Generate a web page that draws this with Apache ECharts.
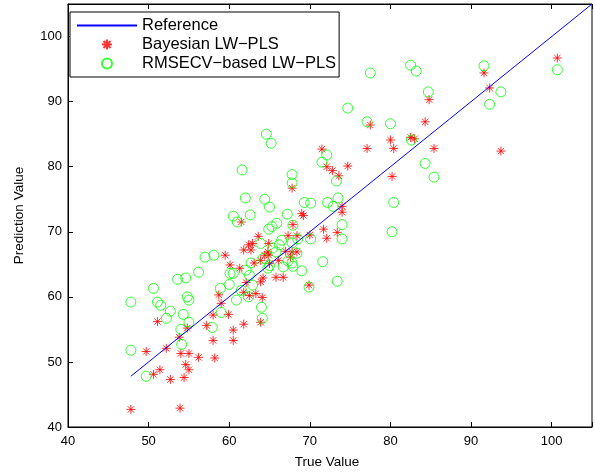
<!DOCTYPE html>
<html>
<head>
<meta charset="utf-8">
<script src="https://cdn.jsdelivr.net/npm/echarts@6/dist/echarts.min.js"></script>
<style>
html, body { margin: 0; padding: 0; background: #fff; }
#main { width: 595px; height: 474px; }
</style>
</head>
<body>
<div id="main"></div>
<script>
// reference line y = x
var refLine = [47.8, 105];

// Bayesian LW-PLS (stars)
var bayesTrue = [100.7, 91.6, 92.3, 93.7, 84.8, 84.3, 77.5, 80.0, 82.5, 83.0, 77.1, 80.4, 85.4, 80.2, 71.5, 72.1, 74.7, 72.8, 73.6, 67.8,
    74.0, 74.0, 69.0, 69.2, 61.5, 67.9, 71.7, 73.4, 72.1, 70.0, 63.6, 67.3, 68.4, 62.9, 62.4, 61.8, 62.7, 64.9, 64.8, 64.9,
    64.4, 67.0, 67.8, 68.4, 67.6, 66.1, 63.9, 63.1, 65.0, 61.3, 64.2, 63.9, 65.8, 66.7, 69.9, 62.1, 59.5, 60.1, 51.1, 54.8,
    53.8, 52.2, 49.7, 54.0, 55.0, 56.2, 54.6, 55.0, 51.4, 50.6, 52.7, 54.4, 47.8, 53.9, 59.0, 58.7, 58.0, 59.9, 57.2, 58.0,
    58.2, 60.5, 60.5, 61.8, 62.5, 63.3, 64.1, 63.9, 61.8];
var bayesPred = [96.7, 94.4, 92.1, 82.4, 90.3, 86.9, 86.4, 84.1, 84.5, 84.3, 82.8, 82.8, 82.8, 78.5, 82.7, 80.0, 80.1, 79.4, 78.6, 76.7,
    73.9, 73.0, 72.8, 72.5, 71.5, 71.1, 70.4, 69.9, 69.0, 69.5, 69.3, 69.4, 69.4, 68.2, 68.0, 67.2, 67.2, 68.2, 66.9, 66.4,
    66.4, 67.0, 66.9, 66.9, 66.1, 65.6, 65.6, 65.2, 65.1, 64.4, 62.9, 62.3, 63.0, 63.0, 61.8, 62.2, 66.4, 64.9, 56.2, 55.2,
    53.8, 52.1, 51.6, 51.3, 51.3, 50.7, 49.6, 48.8, 48.8, 48.1, 47.3, 47.6, 42.7, 42.9, 59.0, 60.3, 57.2, 57.3, 55.6, 53.3,
    50.6, 54.9, 53.3, 60.7, 60.2, 60.5, 59.9, 56.1, 55.8];

// RMSECV-based LW-PLS (circles)
var rmsecvTrue = [100.7, 91.6, 93.7, 92.3, 77.5, 82.5, 83.2, 84.7, 77.1, 80.0, 82.6, 84.3, 85.4, 80.4, 80.2, 74.7, 64.6, 65.2, 72.1, 71.5,
    73.3, 61.6, 67.8, 67.8, 62.0, 64.4, 65.0, 62.6, 69.3, 70.1, 72.2, 73.5, 72.9, 67.2, 65.9, 65.3, 64.9, 67.9, 74.0, 74.0,
    70.1, 68.5, 67.8, 66.5, 66.2, 63.9, 65.4, 65.8, 68.4, 67.3, 67.8, 67.9, 66.7, 69.0, 64.2, 65.0, 64.8, 62.7, 62.1, 62.5,
    71.6, 73.4, 69.9, 62.9, 60.5, 61.0, 57.0, 58.1, 56.2, 60.1, 60.5, 53.6, 54.6, 50.6, 58.9, 60.0, 47.8, 51.1, 51.5, 52.7,
    52.2, 54.8, 55.0, 54.3, 55.0, 54.0, 54.1, 47.8, 49.7, 59.0, 57.9, 62.4, 60.9, 64.0, 64.1, 61.5];
var rmsecvPred = [94.9, 95.5, 91.5, 89.6, 94.4, 95.6, 94.7, 91.5, 86.9, 86.6, 84.1, 80.5, 78.4, 74.5, 70.0, 89.0, 85.0, 83.6, 81.8, 80.7,
    77.8, 79.5, 78.8, 77.5, 75.2, 75.0, 73.8, 72.6, 74.5, 74.4, 74.5, 75.2, 73.9, 72.7, 71.3, 70.8, 70.4, 71.0, 71.1, 68.9,
    68.9, 68.9, 68.3, 68.7, 68.0, 68.2, 67.5, 66.9, 66.7, 65.5, 65.2, 64.7, 64.6, 64.0, 65.9, 64.8, 64.4, 65.2, 64.1, 63.3,
    65.4, 62.4, 61.5, 61.8, 72.4, 71.5, 66.1, 66.4, 63.8, 63.6, 63.6, 62.7, 62.9, 61.3, 61.3, 61.9, 59.2, 59.2, 58.7, 57.8,
    56.7, 60.0, 59.5, 57.3, 56.1, 55.0, 52.7, 51.8, 47.8, 57.6, 55.3, 60.0, 59.5, 58.4, 56.7, 61.0];

var xTicks = [40, 50, 60, 70, 80, 90, 100];
var yTicks = [40, 50, 60, 70, 80, 90, 100];

var starPath = 'path://M5,0L5,10M0,5L10,5M1.5,1.5L8.5,8.5M1.5,8.5L8.5,1.5';

function pairs(xs, ys) {
    var out = [];
    for (var i = 0; i < xs.length; i++) {
        out.push([xs[i], ys[i]]);
    }
    return out;
}

function tickLabel(list) {
    return function (v) {
        return list.indexOf(v) >= 0 ? String(v) : '';
    };
}

function legendText() {
    return { fontSize: 16.5, color: '#000', lineHeight: 19, fontFamily: font };
}

var chart = echarts.init(document.getElementById('main'), null, { renderer: 'canvas' });
var font = 'Liberation Sans, Arial, Helvetica, sans-serif';

var option = {
    animation: false,
    backgroundColor: '#fff',
    textStyle: { fontFamily: font },
    grid: {
        left: 68, right: -9, top: 4, bottom: 47,
        show: true, borderColor: '#000', borderWidth: 1, backgroundColor: '#fff'
    },
    legend: [{
        // boxed legend with all three entries
        orient: 'vertical',
        align: 'left',
        left: 70, top: 12,
        padding: [4, 3, 4, 6],
        itemGap: 0,
        itemWidth: 60,
        itemHeight: 10,
        backgroundColor: '#fff',
        borderColor: '#000',
        borderWidth: 1,
        borderRadius: 0,
        textStyle: legendText(),
        data: ['Reference', 'Bayesian LW\u2212PLS', 'RMSECV\u2212based LW\u2212PLS']
    }, {
        // plain line sample (no marker) laid over the first row
        orient: 'vertical',
        align: 'left',
        left: 71, top: 13,
        z: 10,
        padding: [3, 3, 0, 5],
        itemGap: 0,
        itemWidth: 60,
        itemHeight: 11,
        backgroundColor: '#fff',
        itemStyle: { opacity: 0 },
        textStyle: legendText(),
        data: ['Reference']
    }],
    xAxis: [{
        type: 'value', min: 40, max: 105, interval: 10,
        name: 'True Value', nameLocation: 'middle', nameGap: 28,
        nameTextStyle: { fontSize: 13.5, color: '#000', padding: [0, 6, 0, 0] },
        axisLine: { lineStyle: { color: '#000' } },
        axisTick: { inside: true, length: 5, lineStyle: { color: '#000' } },
        axisLabel: { fontSize: 13, color: '#000', margin: 8, formatter: tickLabel(xTicks) },
        splitLine: { show: false }
    }, {
        type: 'value', min: 40, max: 105, interval: 10, position: 'top',
        axisLine: { lineStyle: { color: '#000' } },
        axisTick: { inside: true, length: 5, lineStyle: { color: '#000' } },
        axisLabel: { show: false },
        splitLine: { show: false }
    }],
    yAxis: [{
        type: 'value', min: 40, max: 105, interval: 10,
        name: 'Prediction Value', nameLocation: 'middle', nameGap: 42,
        nameTextStyle: { fontSize: 13.5, color: '#000' },
        axisLine: { lineStyle: { color: '#000' } },
        axisTick: { inside: true, length: 5, lineStyle: { color: '#000' } },
        axisLabel: { fontSize: 13, color: '#000', margin: 6, formatter: tickLabel(yTicks) },
        splitLine: { show: false }
    }],
    series: [
        {
            name: 'Reference',
            type: 'line',
            data: [[refLine[0], refLine[0]], [refLine[1], refLine[1]]],
            symbol: 'none',
            lineStyle: { color: '#0000ff', width: 1 },
            itemStyle: { color: '#0000ff' },
            silent: true,
            clip: true
        },
        {
            name: 'Bayesian LW\u2212PLS',
            type: 'scatter',
            data: pairs(bayesTrue, bayesPred),
            symbol: starPath,
            symbolSize: 9,
            itemStyle: { color: '#ff0000', borderColor: '#ff0000', borderWidth: 1 },
            silent: true
        },
        {
            name: 'RMSECV\u2212based LW\u2212PLS',
            type: 'scatter',
            data: pairs(rmsecvTrue, rmsecvPred),
            symbol: 'circle',
            symbolSize: 10,
            itemStyle: { color: 'rgba(0,0,0,0)', borderColor: '#00ff00', borderWidth: 1 },
            silent: true
        }
    ]
};

chart.setOption(option);
</script>
</body>
</html>
